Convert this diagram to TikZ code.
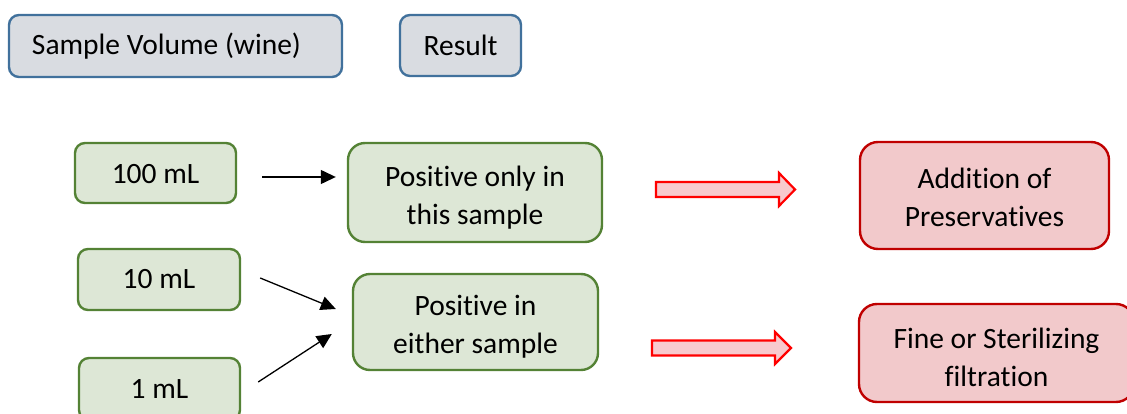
\documentclass[tikz,border=0pt]{standalone}
\usepackage{fontspec}
\setmainfont{Carlito}[Ligatures=NoCommon]
\usetikzlibrary{arrows.meta}

\definecolor{hdrfill}{RGB}{217,220,225}
\definecolor{hdrline}{RGB}{65,113,156}
\definecolor{grnfill}{RGB}{221,231,214}
\definecolor{grnline}{RGB}{84,130,53}
\definecolor{redfill}{RGB}{242,201,203}
\definecolor{redline}{RGB}{192,0,0}
\definecolor{arrfill}{RGB}{248,202,206}
\definecolor{arrline}{RGB}{255,0,0}

\tikzset{
  box/.style={draw, line width=2.4pt, inner sep=0pt},
  hdrbox/.style={box, fill=hdrfill, draw=hdrline, rounded corners=10pt},
  volbox/.style={box, fill=grnfill, draw=grnline, rounded corners=10pt},
  resbox/.style={box, fill=grnfill, draw=grnline, rounded corners=17pt},
  actbox/.style={box, fill=redfill, draw=redline, rounded corners=18pt},
  txt/.style={inner sep=0pt, align=center, font=\fontsize{29.5}{38}\selectfont},
  link/.style={line width=1.3pt, -{Triangle[length=15pt,width=14pt]}},
  blockarrow/.style={draw=arrline, fill=arrfill, line width=2.2pt, line join=miter}
}

\begin{document}
\begin{tikzpicture}[x=1pt, y=-1pt]
\useasboundingbox (0,0) rectangle (1127,414);

% column headers
\node[hdrbox, minimum width=333pt, minimum height=62pt] (svol) at (175.5,46) {};
\node[txt] (svol-t) at ([shift={(-9,0)}]svol.center) {Sample Volume (wine)};
\node[hdrbox, minimum width=121pt, minimum height=61pt] (res) at (460.5,45.5) {};
\node[txt] (res-t) at (res.center) {Result};

% sample volumes
\node[volbox, minimum width=161pt, minimum height=60pt] (v100) at (155.5,173) {};
\node[txt] (v100-t) at ([shift={(0,1)}]v100.center) {100 mL};
\node[volbox, minimum width=162pt, minimum height=61pt] (v10) at (159,279.5) {};
\node[txt] (v10-t) at (v10.center) {10 mL};
\node[volbox, minimum width=161pt, minimum height=62pt] (v1) at (159.5,389) {};
\node[txt] (v1-t) at (v1.center) {1 mL};

% results
\node[resbox, minimum width=254pt, minimum height=99pt] (p1) at (475,192.5) {};
\node[txt] (p1-t) at ([shift={(0,5)}]p1.center) {Positive only in\\this sample};
\node[resbox, minimum width=245pt, minimum height=96pt] (p2) at (475.5,322) {};
\node[txt] (p2-t) at ([shift={(0,5)}]p2.center) {Positive in\\either sample};

% actions
\node[actbox, minimum width=249pt, minimum height=107pt] (add) at (984.5,195.5) {};
\node[txt] (add-t) at ([shift={(0,2)}]add.center) {Addition of\\Preservatives};
\node[actbox, minimum width=275pt, minimum height=98pt] (fine) at (996.5,353) {};
\node[txt] (fine-t) at ([shift={(0,4)}]fine.center) {Fine or Sterilizing\\filtration};

% volume to result links
\draw[link] ([shift={(25,4)}]v100.east) -- ([shift={(-11,-15.5)}]p1.west);
\draw[link] ([shift={(19,-1.5)}]v10.east) -- ([shift={(-16,-13)}]p2.west);
\draw[link] ([shift={(17,-7)}]v1.east) -- ([shift={(-20,12)}]p2.west);

% block arrows from results to actions
\draw[blockarrow] (656,182) -- (779,182) -- (779,173) -- (795,189.5)
  -- (779,206) -- (779,197) -- (656,197) -- cycle;
\draw[blockarrow] (652,340.5) -- (775,340.5) -- (775,332) -- (791,348)
  -- (775,364) -- (775,355.5) -- (652,355.5) -- cycle;
\end{tikzpicture}
\end{document}
